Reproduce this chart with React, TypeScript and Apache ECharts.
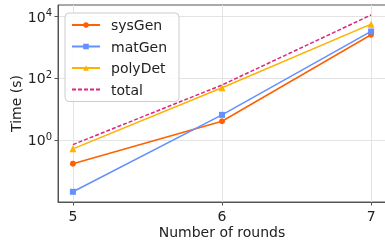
import React, { useEffect, useRef } from "react";
import * as echarts from "echarts";

const rounds = [5, 6, 7];
const sysGen = [0.174, 4.1, 2580];
const matGen = [0.0214, 6.6, 3300];
const polyDet = [0.525, 50, 5700];
const total = [0.72, 61, 11300];
const yTicks = [1, 100, 10000];

const FONT = "DejaVu Sans";

function pairs(ys: number[]) {
  return rounds.map((r, i) => [r, ys[i]]);
}

export default function App() {
  const ref = useRef<HTMLDivElement>(null);
  useEffect(() => {
    const chart = echarts.init(ref.current!, null, { renderer: "svg" });
    const mk = (name: string, data: number[], color: string, symbol: string, dashed = false) => ({
      name,
      type: "line",
      data: pairs(data),
      symbol: dashed ? "circle" : symbol,
      symbolSize: symbol === "triangle" ? 7 : 6,
      showSymbol: !dashed,
      itemStyle: { color },
      lineStyle: { color, width: 1.5, type: dashed ? [4, 2] : "solid" },
      z: dashed ? 1 : 2,
    });
    chart.setOption({
      animation: false,
      textStyle: { fontFamily: FONT },
      grid: {
        left: 58, top: 5, width: 328, bottom: 39,
        containLabel: false, outerBoundsMode: "none",
        show: true, borderColor: "#555", borderWidth: 1, backgroundColor: "transparent",
      },
      legend: {
        orient: "vertical",
        left: 65,
        top: 13,
        itemWidth: 28,
        itemHeight: 7,
        itemGap: 7.5,
        padding: [5, 12, 5, 6],
        backgroundColor: "rgba(255,255,255,0.85)",
        borderColor: "#ccc",
        borderWidth: 1,
        borderRadius: 4,
        textStyle: { fontFamily: FONT, fontSize: 14, color: "#222", padding: [0, 0, 0, 6] },
        data: ["sysGen", "matGen", "polyDet", { name: "total", itemStyle: { opacity: 0 } }],
      },
      xAxis: {
        type: "value",
        min: 4.9,
        max: 7.1,
        splitNumber: 2,
        name: "Number of rounds",
        nameLocation: "middle",
        nameGap: 23,
        nameMoveOverlap: false,
        nameTextStyle: { fontFamily: FONT, fontSize: 14, color: "#222" },
        axisLine: { show: true, lineStyle: { color: "#555" } },
        axisTick: { show: true, length: 3.5, lineStyle: { color: "#555" }, customValues: rounds },
        axisLabel: {
          fontFamily: FONT, fontSize: 14, color: "#222", margin: 7,
          showMinLabel: true, showMaxLabel: true,
          formatter: (v: number) => (Math.abs(v - Math.round(v)) < 1e-6 ? String(Math.round(v)) : ""),
        },
        splitLine: { show: true, lineStyle: { color: "#e3e3e3", width: 1 } },
      },
      yAxis: {
        type: "log",
        logBase: 10,
        min: 0.01,
        max: 23700,
        interval: 2,
        name: "Time (s)",
        nameLocation: "middle",
        nameGap: 35,
        nameMoveOverlap: false,
        nameTextStyle: { fontFamily: FONT, fontSize: 14, color: "#222" },
        axisLine: { show: true, lineStyle: { color: "#555" } },
        axisTick: { show: true, length: 3.5, lineStyle: { color: "#555" }, customValues: yTicks },
        axisLabel: {
          fontFamily: FONT, fontSize: 14, color: "#222", margin: 6,
          formatter: (v: number) => {
            const e = Math.round(Math.log10(v));
            if (e < 0) return "";
            return "{b|10}{s|" + e + "}";
          },
          rich: {
            b: { fontFamily: FONT, fontSize: 14, color: "#222" },
            s: { fontFamily: FONT, fontSize: 10, color: "#222", padding: [0, 0, 8, 0] },
          },
        },
        splitLine: { show: true, lineStyle: { color: "#e3e3e3", width: 1 } },
      },
      series: [
        mk("sysGen", sysGen, "#FE6100", "circle"),
        mk("matGen", matGen, "#648FFF", "rect"),
        mk("polyDet", polyDet, "#FFB000", "triangle"),
        mk("total", total, "#DC267F", "none", true),
      ],
    });
    return () => chart.dispose();
  }, []);
  return <div ref={ref} style={{ position: "fixed", left: 0, top: 0, width: 385, height: 241 }} />;
}
